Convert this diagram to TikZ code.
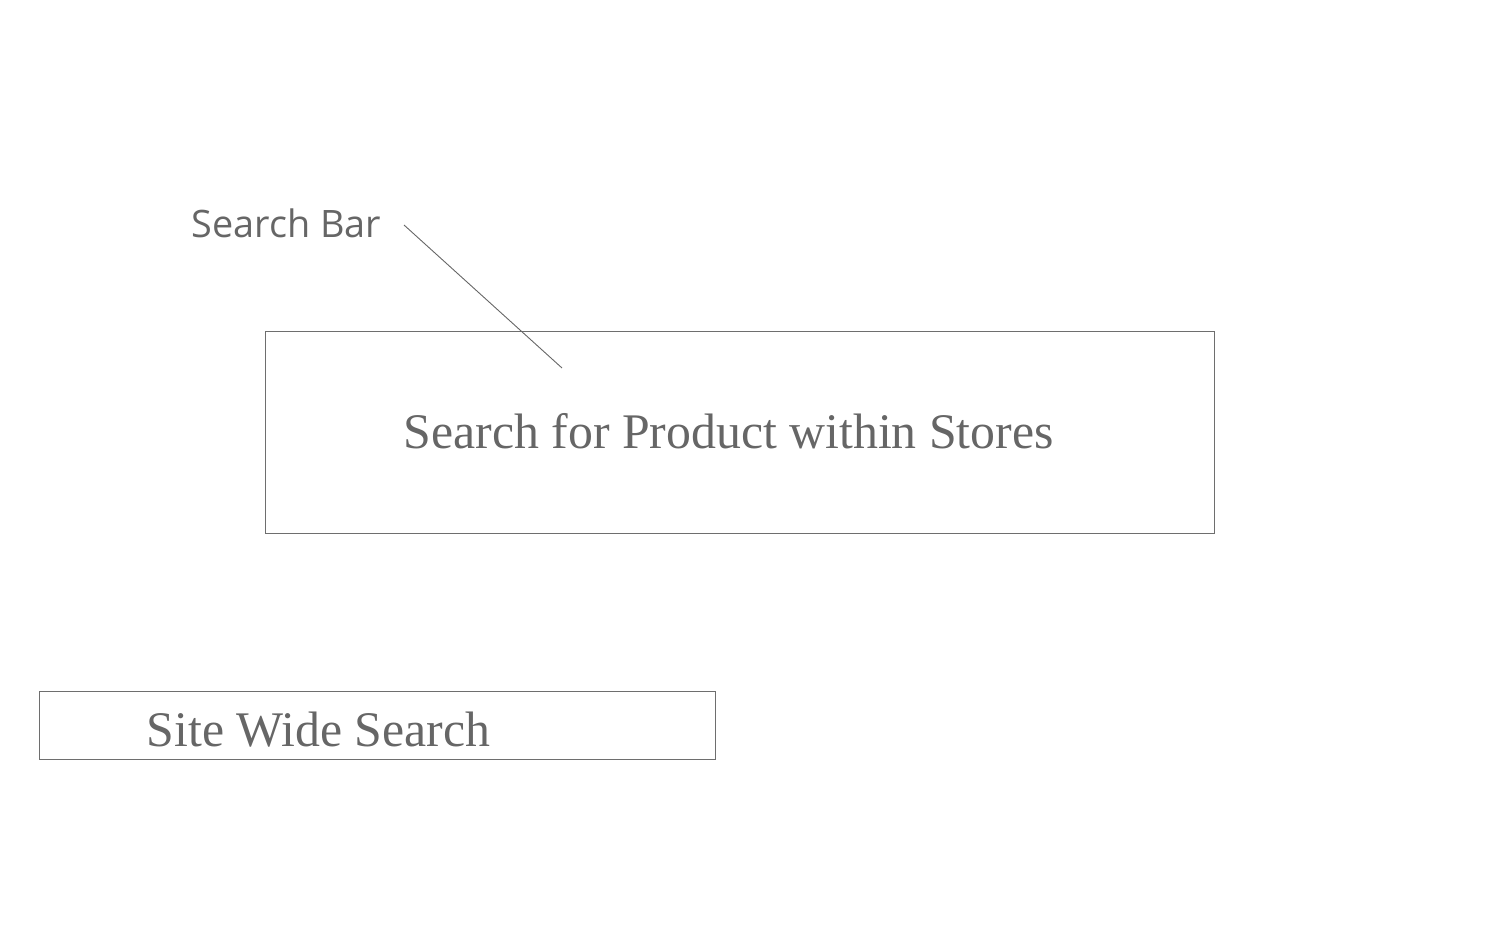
\documentclass[tikz,border=0pt]{standalone}
\usepackage{fontspec}
\setmainfont{Liberation Serif}
\newfontfamily\opensans{Open Sans}
\definecolor{ink}{HTML}{666666}
\definecolor{edge}{HTML}{6E6E6E}
\begin{document}
\begin{tikzpicture}[x=1pt,y=-1pt,
  boxshape/.style={draw=edge,line width=1pt,rectangle,inner sep=0pt,anchor=north west},
  serifText/.style={text=ink,inner sep=0pt,anchor=base west,font=\fontsize{49.8}{50}\selectfont},
  sansText/.style={text=ink,inner sep=0pt,anchor=base west,font=\opensans\fontsize{37.8}{38}\selectfont},
  leader/.style={draw=ink,line width=0.9pt}]
\useasboundingbox (0,0) rectangle (1508,931);
\node[boxshape,minimum width=949pt,minimum height=202pt] (storeBox) at (265,331) {};
\node[serifText] (storeText) at (403.5,448.5) {Search for Product within Stores};
\node[boxshape,minimum width=676pt,minimum height=68pt] (siteBox) at (39,691) {};
\node[serifText] (siteText) at (146.5,746.5) {Site Wide Search};
\node[sansText] (barLabel) at (191.5,237) {Search Bar};
\coordinate (leadStart) at (404,225);
\coordinate (leadEnd) at (562,368);
\draw[leader] (leadStart) -- (leadEnd);
\end{tikzpicture}
\end{document}
